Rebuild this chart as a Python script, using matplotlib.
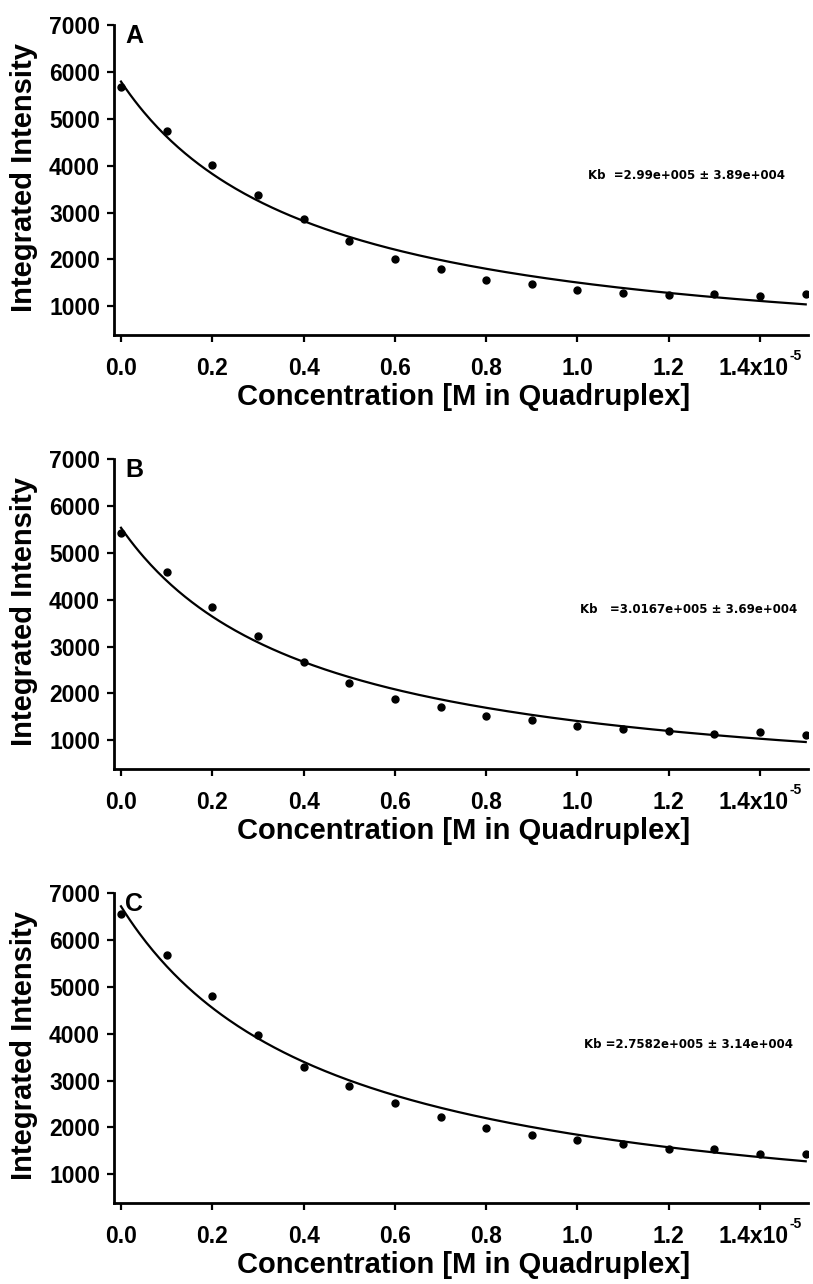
import numpy as np
import matplotlib.pyplot as plt

plt.rcParams['font.family'] = ['Liberation Sans', 'DejaVu Sans']
plt.rcParams['font.weight'] = 'bold'

# concentration in units of 1e-5 M
conc = [0.0, 0.1, 0.2, 0.3, 0.4, 0.5, 0.6, 0.7, 0.8, 0.9, 1.0, 1.1, 1.2, 1.3, 1.4, 1.5]

intensity_A = [5680, 4750, 4005, 3370, 2870, 2390, 2015, 1800, 1555, 1470, 1360, 1290, 1240, 1260, 1220, 1260]
intensity_B = [5430, 4590, 3835, 3230, 2680, 2225, 1885, 1710, 1510, 1425, 1305, 1235, 1200, 1140, 1180, 1125]
intensity_C = [6560, 5670, 4805, 3970, 3295, 2895, 2525, 2225, 1990, 1845, 1730, 1655, 1535, 1550, 1445, 1445]

# fitted curve: y = bottom + span / (1 + k*x)
fit_A = (-277, 6071, 2.4)
fit_B = (-304, 5838, 2.4)
fit_C = (-368, 7084, 2.2)

letters = ['A', 'B', 'C']
kb_text = ['Kb  =2.99e+005 \u00b1 3.89e+004',
           'Kb   =3.0167e+005 \u00b1 3.69e+004',
           'Kb =2.7582e+005 \u00b1 3.14e+004']
kb_x = [0.683, 0.671, 0.677]
kb_y = [0.516, 0.513, 0.510]

xticks = [0.0, 0.2, 0.4, 0.6, 0.8, 1.0, 1.2, 1.4]
xticklabels = ['0.0', '0.2', '0.4', '0.6', '0.8', '1.0', '1.2', '']
yticks = [1000, 2000, 3000, 4000, 5000, 6000, 7000]

W, H = 813, 1284
fig = plt.figure(figsize=(W / 100, H / 100), dpi=100)

tops = [25, 459, 893]
left, right, height = 114, 808, 310

datasets = [intensity_A, intensity_B, intensity_C]
fits = [fit_A, fit_B, fit_C]

xs = np.linspace(0, 1.5, 300)

for i in range(3):
    bottom_px = tops[i] + height
    ax = fig.add_axes([left / W, 1 - bottom_px / H, (right - left) / W, height / H])
    ax.plot(conc, datasets[i], 'o', color='black', ms=5)
    b, s, k = fits[i]
    ax.plot(xs, b + s / (1 + k * xs), color='black', lw=1.6)

    ax.set_xlim(-0.0153, 1.505)
    ax.set_ylim(390, 7000)
    ax.set_xticks(xticks)
    ax.set_xticklabels(xticklabels)
    ax.set_yticks(yticks)
    for sp in ['top', 'right']:
        ax.spines[sp].set_visible(False)
    for sp in ['left', 'bottom']:
        ax.spines[sp].set_linewidth(2.0)
    ax.tick_params(axis='both', direction='out', length=5, width=1.6, labelsize=16.5)
    ax.tick_params(axis='x', pad=10.5)
    ax.tick_params(axis='y', pad=5)

    # last x tick label carries the exponent
    ax.annotate('1.4x10', xy=(1.4, 0), xycoords=('data', 'axes fraction'),
                xytext=(-7, -22), textcoords='offset pixels',
                ha='center', va='top', fontsize=16.5, fontweight='bold')
    ax.annotate('-5', xy=(1.4, 0), xycoords=('data', 'axes fraction'),
                xytext=(29, -14), textcoords='offset pixels',
                ha='left', va='top', fontsize=10, fontweight='bold')

    ax.text(0.5036, -0.226, 'Concentration [M in Quadruplex]', transform=ax.transAxes,
            fontsize=21, fontweight='bold', ha='center', va='baseline')
    ax.text(-0.129, 0.508, 'Integrated Intensity', transform=ax.transAxes,
            fontsize=21, fontweight='bold', ha='center', va='center', rotation=90)

    ax.text(0.016, 0.942, letters[i], transform=ax.transAxes, fontsize=18,
            fontweight='bold', ha='left', va='baseline')
    ax.text(kb_x[i], kb_y[i], kb_text[i], transform=ax.transAxes, fontsize=8.5,
            family='DejaVu Sans', fontweight='bold', ha='left', va='center')

fig.savefig('out.png', dpi=100)
